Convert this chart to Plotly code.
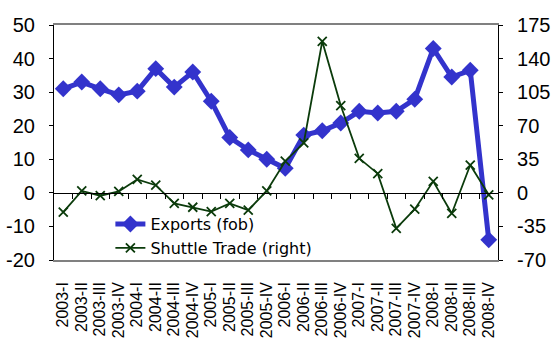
import plotly.graph_objects as go

quarters = ["2003-I", "2003-II", "2003-III", "2003-IV",
            "2004-I", "2004-II", "2004-III", "2004-IV",
            "2005-I", "2005-II", "2005-III", "2005-IV",
            "2006-I", "2006-II", "2006-III", "2006-IV",
            "2007-I", "2007-II", "2007-III", "2007-IV",
            "2008-I", "2008-II", "2008-III", "2008-IV"]

exports_fob = [31, 33, 31, 29.2, 30.3, 37, 31.5, 36,
               27.3, 16.5, 12.8, 10, 7.3, 17.2, 18.5, 20.8,
               24.3, 23.8, 24.3, 27.9, 43, 34.5, 36.5, -14]

shuttle_trade = [-20, 2, -3, 1.5, 14, 8, -11, -15,
                 -19.5, -11, -18, 2, 33, 52, 158, 91,
                 36, 20, -37, -17, 12, -21.5, 29, -2]

left_ticks = [-20, -10, 0, 10, 20, 30, 40, 50]
right_ticks = [-70, -35, 0, 35, 70, 105, 140, 175]

FONT = "Liberation Sans, Arial, sans-serif"
WIDE = "DejaVu Sans, sans-serif"
BLUE = "#3333CC"
GREEN = "#0B3B0B"

n = len(quarters)

fig = go.Figure()
# empty helper trace so the zero-line axis (x2) gets rendered
fig.add_trace(go.Scatter(x=[None], y=[None], xaxis="x2", yaxis="y",
                         showlegend=False, hoverinfo="skip"))
fig.add_trace(go.Scatter(
    x=quarters, y=exports_fob, name="Exports (fob)", mode="lines+markers",
    line=dict(color=BLUE, width=5),
    marker=dict(symbol="diamond", size=13, color=BLUE),
    yaxis="y", xaxis="x"))
fig.add_trace(go.Scatter(
    x=quarters, y=shuttle_trade, name="Shuttle Trade (right)", mode="lines+markers",
    line=dict(color=GREEN, width=1.8),
    marker=dict(symbol="x-thin", size=9, line=dict(color=GREEN, width=1.8)),
    yaxis="y2", xaxis="x"))

fig.update_layout(
    width=551, height=338,
    margin=dict(l=54, r=53, t=25, b=78),
    paper_bgcolor="white", plot_bgcolor="white",
    font=dict(family=FONT, color="black"),
    showlegend=True,
    legend=dict(x=0.127, y=0.225, xanchor="left", yanchor="top",
                bgcolor="rgba(0,0,0,0)", borderwidth=0,
                font=dict(size=16, family=WIDE), tracegroupgap=0),
    xaxis=dict(type="category", categoryorder="array", categoryarray=quarters,
               range=[-0.5, n - 0.5], tickangle=-90, ticks="",
               tickmode="array", tickvals=quarters, ticktext=quarters,
               tickfont=dict(size=16), showline=True,
               linecolor="#808080", linewidth=1.5, mirror=True,
               showgrid=False, zeroline=False,
               ticklabelstandoff=14, automargin=False),
    xaxis2=dict(overlaying="x", anchor="free", position=20 / 70,
                range=[-0.5, n - 0.5], tickmode="array",
                tickvals=[i + 0.5 for i in range(n - 1)],
                ticks="outside", ticklen=5, tickcolor="black",
                showticklabels=False, showline=True, linecolor="black",
                linewidth=1, showgrid=False, zeroline=False, automargin=False),
    yaxis=dict(range=[-20, 50], tickmode="array", tickvals=left_ticks,
               ticktext=[str(v) for v in left_ticks], ticks="outside",
               ticklen=4, tickcolor="black", showline=True, linecolor="black",
               linewidth=1.2, showgrid=False, zeroline=False,
               tickfont=dict(size=20), ticklabelstandoff=10, automargin=False),
    yaxis2=dict(range=[-70, 175], tickmode="array", tickvals=right_ticks,
                ticktext=[str(v) for v in right_ticks], overlaying="y",
                side="right", ticks="outside", ticklen=4, tickcolor="black",
                showline=True, linecolor="black", linewidth=1.2,
                showgrid=False, zeroline=False, tickfont=dict(size=20),
                ticklabelstandoff=10, automargin=False),
)

fig.write_html("out.html")
